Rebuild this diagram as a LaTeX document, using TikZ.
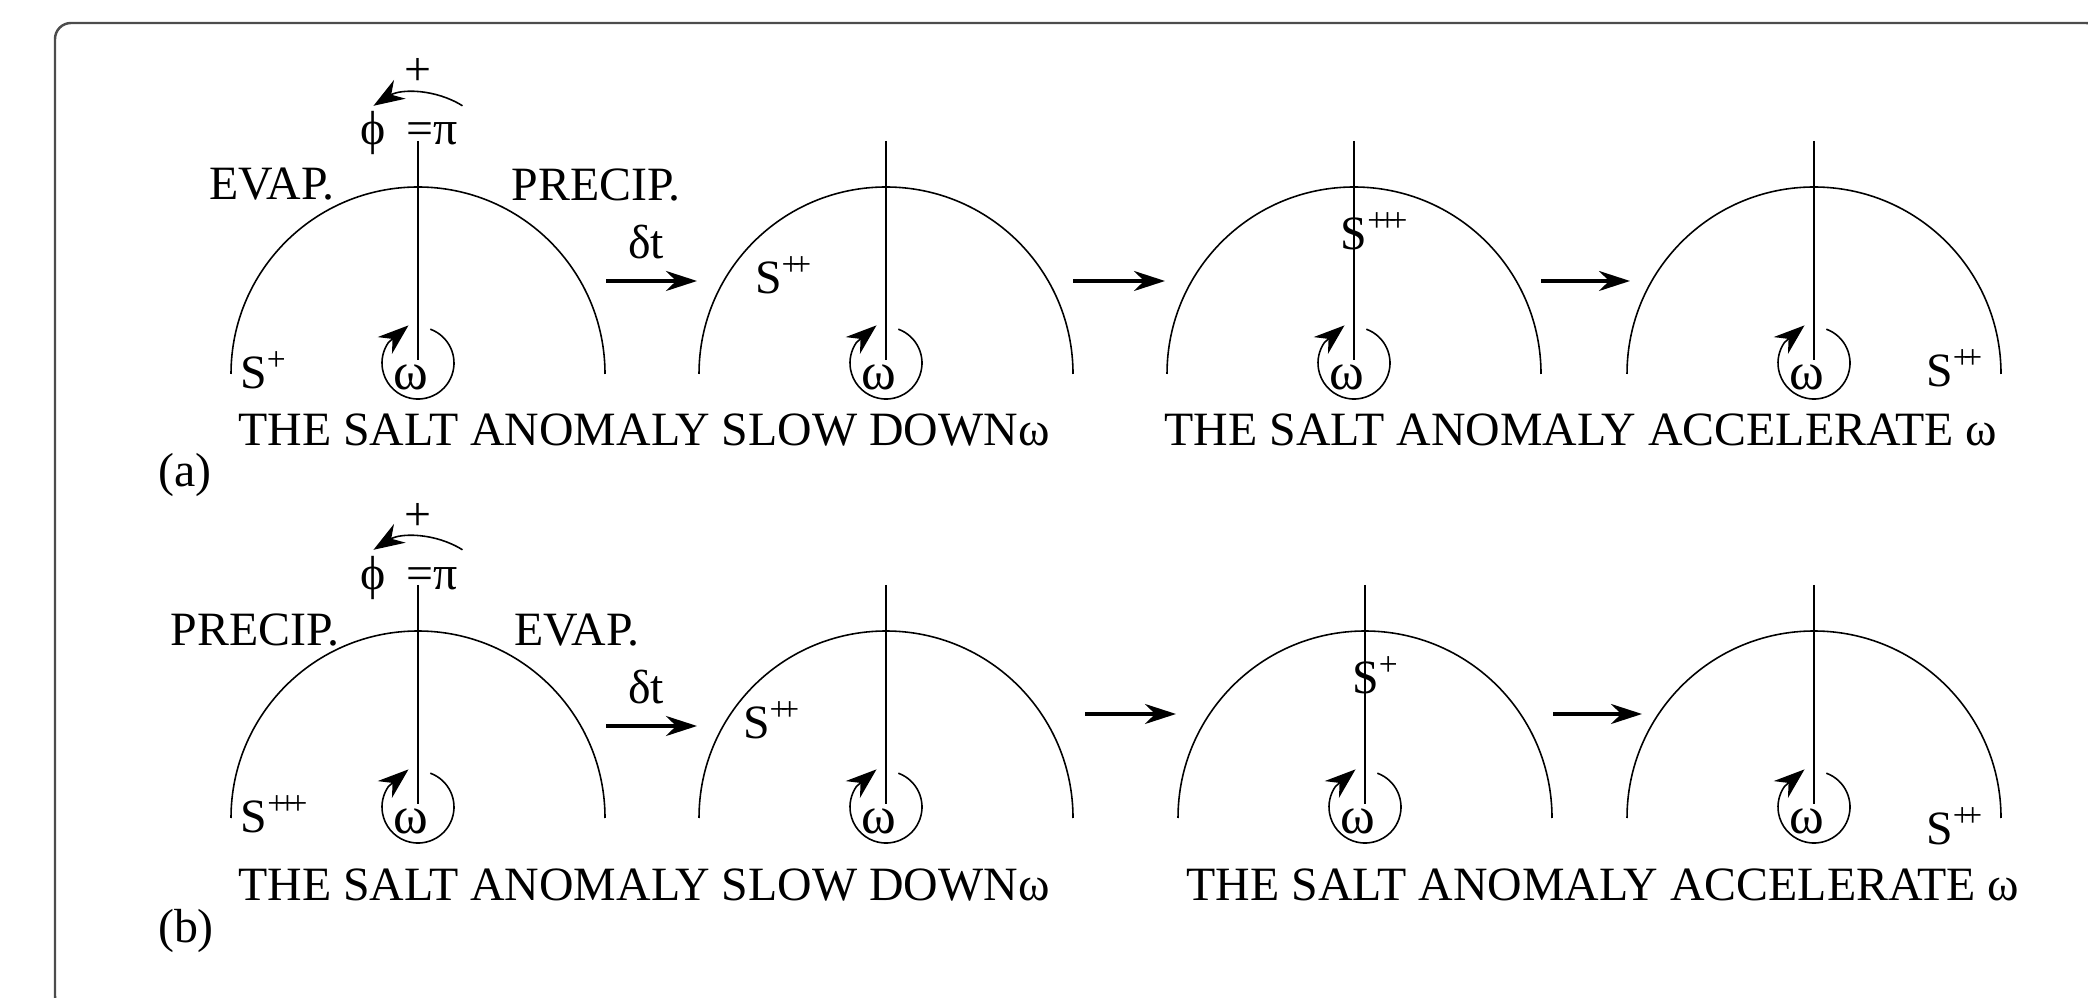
\documentclass[tikz,border=0pt]{standalone}
\usepackage{fontspec}
\setmainfont{Liberation Serif}
\usetikzlibrary{arrows.meta,calc}

\begin{document}
\begin{tikzpicture}[x=0.01cm, y=-0.01cm,
    every node/.style={font=\fontsize{13.6}{15}\selectfont, inner sep=0pt},
    rim/.style={line width=0.45pt},
    axis/.style={line width=0.5pt},
    spin/.style={line width=0.45pt, -{Stealth[length=3.1mm, width=2.2mm]}},
    flow/.style={line width=0.9pt, -{Stealth[length=3.1mm, width=2.0mm]}}]
  \useasboundingbox (0,0) rectangle (2088,998);
  \draw[gray!60!black, line width=0.7pt, rounded corners=1.6mm] (55,23) rectangle (2102,1012);

  % the eight half circles with their axis and rotation
  \foreach \cx/\cy/\n in {418/374/a1, 886/374/a2, 1354/374/a3, 1814/374/a4,
                          418/818/b1, 886/818/b2, 1365/818/b3, 1814/818/b4} {
    \coordinate (\n) at (\cx,\cy);
    \draw[rim] (\cx-187,\cy) arc[start angle=180, end angle=360, radius=187];
    \draw[axis] (\cx,\cy-233) -- (\cx,\cy-14);
    \draw[spin] (\cx+12.3,\cy-44.8) arc[start angle=-70, end angle=215, radius=36] -- ++(20,-17);
    \node (\n w) at (\cx-7,\cy+3) {\fontsize{15}{15}\selectfont ω};
  }

  % (a)
  \node (pa)    at (418,72)   {+};
  \node (phia)  at (409,133)  {ϕ\hspace{0.45em}=π};
  \draw[spin] ($(a1)+(44.5,-268.2)$) arc[start angle=-58, end angle=-122, radius=84];
  \node (evapa) at (272,184)  {EVAP.};
  \node (preca) at (596,185)  {PRECIP.};
  \node (sa1)   at (264,370)  {S\textsuperscript{+}};
  \node (sa2)   at (784,275)  {S\textsuperscript{+\kern-.25em+}};
  \node (sa3)   at (1375,231) {S\textsuperscript{+\kern-.25em+\kern-.25em+}};
  \node (sa4)   at (1955,368) {S\textsuperscript{+\kern-.25em+}};
  \coordinate (a1r) at (606,281);  \coordinate (a2l) at (697,281);
  \coordinate (a2r) at (1073,281); \coordinate (a3l) at (1165,281);
  \coordinate (a3r) at (1541,281); \coordinate (a4l) at (1630,281);
  \draw[flow] (a1r) -- (a2l);
  \draw[flow] (a2r) -- (a3l);
  \draw[flow] (a3r) -- (a4l);
  \node (dta)   at (646,242)  {δt};
  \node (slowa) at (644,430)  {THE SALT ANOMALY SLOW DOWNω};
  \node (acca)  at (1581,430) {THE SALT ANOMALY ACCELERATE ω};
  \node (laba)  at (185,475)  {(a)};

  % (b)
  \node (pb)    at (418,517)  {+};
  \node (phib)  at (409,578)  {ϕ\hspace{0.45em}=π};
  \draw[spin] ($(b1)+(44.5,-268.2)$) arc[start angle=-58, end angle=-122, radius=84];
  \node (precb) at (255,630)  {PRECIP.};
  \node (evapb) at (577,630)  {EVAP.};
  \node (sb1)   at (275,814)  {S\textsuperscript{+\kern-.25em+\kern-.25em+}};
  \node (sb2)   at (772,720)  {S\textsuperscript{+\kern-.25em+}};
  \node (sb3)   at (1376,675) {S\textsuperscript{+}};
  \node (sb4)   at (1955,826) {S\textsuperscript{+\kern-.25em+}};
  \coordinate (b1r) at (606,726);  \coordinate (b2l) at (697,726);
  \coordinate (b2r) at (1085,714); \coordinate (b3l) at (1176,714);
  \coordinate (b3r) at (1553,714); \coordinate (b4l) at (1642,714);
  \draw[flow] (b1r) -- (b2l);
  \draw[flow] (b2r) -- (b3l);
  \draw[flow] (b3r) -- (b4l);
  \node (dtb)   at (646,687)  {δt};
  \node (slowb) at (644,885)  {THE SALT ANOMALY SLOW DOWNω};
  \node (accb)  at (1603,885) {THE SALT ANOMALY ACCELERATE ω};
  \node (labb)  at (186,931)  {(b)};
\end{tikzpicture}
\end{document}
